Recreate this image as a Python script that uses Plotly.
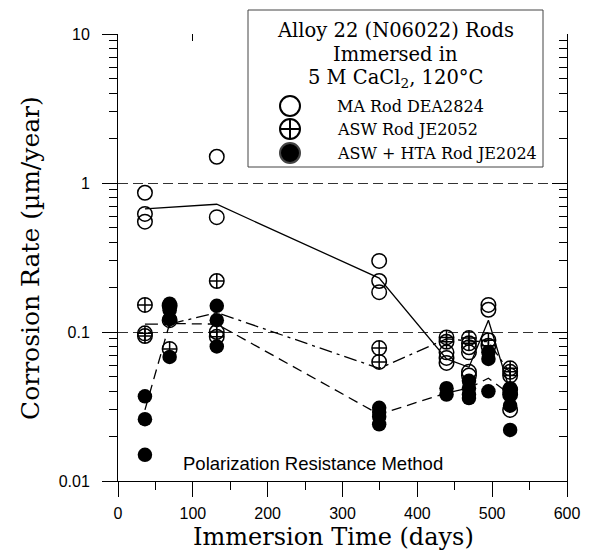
import plotly.graph_objects as go

# ---------------- data ----------------
ma_days = [36, 36, 36, 132, 132, 349, 349, 349, 439, 439, 439, 469, 469, 469, 469, 495, 495, 524, 524, 524]
ma_vals = [0.86, 0.62, 0.55, 1.5, 0.59, 0.30, 0.22, 0.185, 0.073, 0.067, 0.062,
           0.079, 0.073, 0.054, 0.051, 0.152, 0.141, 0.041, 0.038, 0.030]

asw_days = [36, 36, 36, 69, 69, 69, 132, 132, 132, 349, 349, 439, 439, 469, 469, 495, 495, 524, 524, 524]
asw_vals = [0.152, 0.098, 0.094, 0.15, 0.12, 0.077, 0.22, 0.10, 0.093, 0.078, 0.063,
            0.092, 0.086, 0.091, 0.084, 0.088, 0.081, 0.057, 0.054, 0.051]

hta_days = [36, 36, 36, 69, 69, 69, 69, 132, 132, 132, 349, 349, 349, 349, 439, 439,
            469, 469, 469, 469, 495, 495, 495, 524, 524, 524, 524]
hta_vals = [0.037, 0.026, 0.015, 0.155, 0.14, 0.122, 0.068, 0.15, 0.12, 0.08,
            0.031, 0.029, 0.027, 0.024, 0.042, 0.038, 0.047, 0.042, 0.038, 0.036,
            0.073, 0.066, 0.040, 0.042, 0.038, 0.032, 0.022]

# average lines
ma_line_days = [36, 132, 349, 439, 469, 495, 524]
ma_line_vals = [0.67, 0.72, 0.23, 0.066, 0.058, 0.12, 0.040]
asw_line_days = [36, 69, 132, 349, 439, 469, 495, 524]
asw_line_vals = [0.113, 0.113, 0.135, 0.057, 0.09, 0.087, 0.086, 0.053]
hta_line_days = [36, 69, 132, 349, 439, 469, 495, 524]
hta_line_vals = [0.030, 0.114, 0.113, 0.028, 0.039, 0.042, 0.049, 0.038]

x_ticks = [0, 100, 200, 300, 400, 500, 600]
y_ticks = [0.01, 0.1, 1, 10]
y_ticktext = ["0.01", "0.1", "1", "10"]

legend_title = ["Alloy 22 (N06022) Rods", "Immersed in", "5 M CaCl<sub>2</sub>, 120°C"]
legend_labels = ["MA Rod DEA2824", "ASW Rod JE2052", "ASW + HTA Rod JE2024"]
legend_symbols = ["circle-open", "circle-cross-open", "circle"]

# ---------------- figure ----------------
W, H = 592, 550
ML, MR, MT, MB = 118, 25, 34, 69
PW, PH = W - ML - MR, H - MT - MB


def px(xp):
    return (xp - ML) / PW


def py(yp):
    return (H - MB - yp) / PH


# legend layout (pixel positions)
BOX_L, BOX_R, BOX_T, BOX_B = 248, 543, 10, 167
KEY_X, TEXT_X = 290, 335
ROW_Y = [106, 129, 153]
TITLE_Y = [30, 54, 79]

fig = go.Figure()

LW = 1.3
fig.add_trace(go.Scatter(x=ma_line_days, y=ma_line_vals, mode="lines",
                         line=dict(color="black", width=LW), showlegend=False))
fig.add_trace(go.Scatter(x=asw_line_days, y=asw_line_vals, mode="lines",
                         line=dict(color="black", width=LW, dash="13px,5px,3px,5px"), showlegend=False))
fig.add_trace(go.Scatter(x=hta_line_days, y=hta_line_vals, mode="lines",
                         line=dict(color="black", width=LW, dash="10px,6px"), showlegend=False))

MS = 14.5
fig.add_trace(go.Scatter(x=ma_days, y=ma_vals, mode="markers", xaxis="x2", yaxis="y2",
                         marker=dict(symbol="circle-open", size=MS, color="black", line=dict(width=1.5)),
                         showlegend=False))
fig.add_trace(go.Scatter(x=asw_days, y=asw_vals, mode="markers", xaxis="x2", yaxis="y2",
                         marker=dict(symbol="circle-cross-open", size=MS, color="black", line=dict(width=1.5)),
                         showlegend=False))
fig.add_trace(go.Scatter(x=hta_days, y=hta_vals, mode="markers", xaxis="x2", yaxis="y2",
                         marker=dict(symbol="circle", size=MS, color="black", line=dict(width=0)),
                         showlegend=False))

# legend keys (in paper-like overlay axes)
fig.add_trace(go.Scatter(x=[px(KEY_X)] * 3, y=[py(v) for v in ROW_Y], mode="markers",
                         xaxis="x3", yaxis="y3", cliponaxis=False, hoverinfo="skip",
                         marker=dict(symbol=legend_symbols, size=20, color="black", line=dict(width=2)),
                         showlegend=False))

tickfont = dict(family="Liberation Sans, Arial, sans-serif", size=16, color="black")

fig.update_layout(
    width=W, height=H,
    margin=dict(l=ML, r=MR, t=MT, b=MB),
    paper_bgcolor="white", plot_bgcolor="white",
    showlegend=False,
    xaxis=dict(range=[0, 600], tickvals=x_ticks, ticks="outside", ticklen=15, tickwidth=1,
               tickcolor="black", showline=True, linecolor="black", linewidth=1,
               showgrid=False, zeroline=False, tickfont=tickfont, ticklabelstandoff=3,
               minor=dict(ticks="outside", ticklen=8, dtick=50, tickcolor="black", showgrid=False)),
    yaxis=dict(type="log", range=[-2, 1], tickvals=y_ticks, ticktext=y_ticktext,
               ticks="outside", ticklen=15, tickwidth=1, tickcolor="black",
               showline=True, linecolor="black", linewidth=1,
               showgrid=True, gridcolor="#333333", gridwidth=1, griddash="10px,5px",
               zeroline=False, tickfont=tickfont, ticklabelstandoff=9,
               minor=dict(ticks="outside", ticklen=8, dtick="D1", tickcolor="black", showgrid=False)),
    xaxis2=dict(range=[0, 600], overlaying="x", side="top", anchor="y", tickvals=x_ticks,
                ticks="inside", ticklen=7, tickcolor="black", showticklabels=False,
                showline=False, showgrid=False, zeroline=False),
    yaxis2=dict(type="log", range=[-2, 1], overlaying="y", side="right", anchor="x",
                tickvals=y_ticks, ticks="inside", ticklen=15, tickcolor="black",
                showticklabels=False, showline=True, linecolor="black", linewidth=1,
                showgrid=False, zeroline=False,
                minor=dict(ticks="inside", ticklen=8, dtick="D1", tickcolor="black", showgrid=False)),
    xaxis3=dict(range=[0, 1], overlaying="x", visible=False, fixedrange=True),
    yaxis3=dict(range=[0, 1], overlaying="y", visible=False, fixedrange=True),
)

# legend box: white strip hides the top gridline/ticks under the box, then the frame
fig.add_shape(type="rect", xref="paper", yref="paper",
              x0=px(BOX_L), x1=px(BOX_R), y0=py(44), y1=py(BOX_T),
              fillcolor="white", line=dict(width=0), layer="above")
fig.add_shape(type="rect", xref="paper", yref="paper",
              x0=px(BOX_L), x1=px(BOX_R), y0=py(BOX_B), y1=py(BOX_T),
              fillcolor="rgba(0,0,0,0)", line=dict(color="#444444", width=1), layer="above")

serif = "DejaVu Serif, serif"
for t, yp in zip(legend_title, TITLE_Y):
    fig.add_annotation(text=t, x=px((BOX_L + BOX_R) / 2), y=py(yp), xref="paper", yref="paper",
                       xanchor="center", yanchor="middle", showarrow=False,
                       font=dict(family=serif, size=19.5, color="black"))

for lab, yp in zip(legend_labels, ROW_Y):
    fig.add_annotation(text=lab, x=px(TEXT_X), y=py(yp), xref="paper", yref="paper",
                       xanchor="left", yanchor="middle", showarrow=False,
                       font=dict(family=serif, size=16, color="black"))

# axis titles
fig.add_annotation(text="Immersion Time (days)", x=px(333), y=py(537), xref="paper", yref="paper",
                   xanchor="center", yanchor="middle", showarrow=False, borderpad=0,
                   font=dict(family=serif, size=24, color="black"))
fig.add_annotation(text="Corrosion Rate (µm/year)", x=px(30), y=py(258), xref="paper", yref="paper",
                   xanchor="center", yanchor="middle", showarrow=False, textangle=-90,
                   font=dict(family=serif, size=25, color="black"))

fig.add_annotation(text="Polarization Resistance Method", x=px(181), y=py(463), xref="paper", yref="paper",
                   xanchor="left", yanchor="middle", showarrow=False,
                   font=dict(family="Liberation Sans, Arial, sans-serif", size=18.5, color="black"))

fig.write_html("out.html")
